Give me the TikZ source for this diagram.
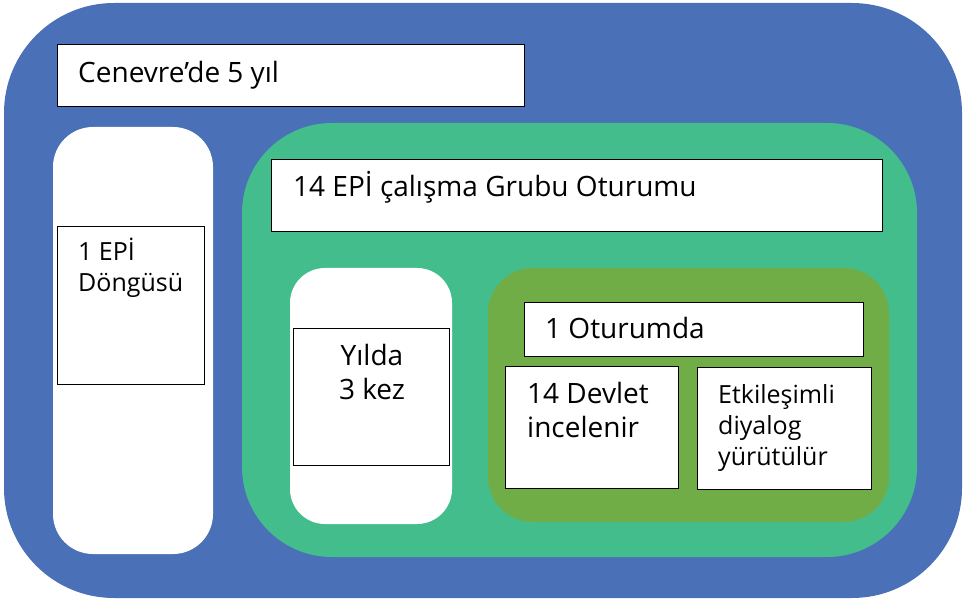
\documentclass[tikz,border=0pt]{standalone}
\usepackage{fontspec}
\setmainfont{Open Sans}
\usetikzlibrary{positioning}
\definecolor{outerblue}{HTML}{4A70B7}
\definecolor{sessgreen}{HTML}{44BD8D}
\definecolor{meetolive}{HTML}{70AD47}
\begin{document}
\begin{tikzpicture}[x=1pt,y=-1pt,
    box/.style={draw=black, fill=white, line width=1.2pt, inner sep=0pt, anchor=north west},
    lbl/.style={inner sep=0pt, anchor=base west, align=left, font=\fontsize{28}{34}\selectfont},
    small/.style={font=\fontsize{25}{31}\selectfont}]
        \useasboundingbox (0,0) rectangle (963,601);

        \fill [outerblue, rounded corners=110pt] (4,3) rectangle (962,598);
        \fill [white, rounded corners=40pt] (53,127) rectangle (213,554);
        \fill [sessgreen, rounded corners=90pt] (242,123) rectangle (917,557);
        \fill [white, rounded corners=35pt] (290,268) rectangle (452,524);
        \fill [meetolive, rounded corners=45pt] (488,268) rectangle (889,522);

        \node [box, minimum width=467pt, minimum height=62pt] (geneva) at (57,44) {};
        \node [box, minimum width=611pt, minimum height=72pt] (session) at (271,159) {};
        \node [box, minimum width=147pt, minimum height=158pt] (cycle) at (57,226) {};
        \node [box, minimum width=156pt, minimum height=137pt] (yearly) at (293,328) {};
        \node [box, minimum width=339pt, minimum height=54pt] (meeting) at (524,302) {};
        \node [box, minimum width=173pt, minimum height=122pt] (states) at (505,366) {};
        \node [box, minimum width=174pt, minimum height=122pt] (dialog) at (697,367) {};

        \node [lbl] (genevatext) at (78,83) {Cenevre’de 5 yıl};
        \node [lbl] (sessiontext) at (293,197) {14 EPİ çalışma Grubu Oturumu};
        \node [lbl, small] (cycletext) at (78,292) {1 EPİ\\Döngüsü};
        \node [lbl, anchor=base, align=center] (yearlytext) at (372,399) {Yılda\\3 kez};
        \node [lbl] (meetingtext) at (545,338) {1 Oturumda};
        \node [lbl] (statestext) at (527,437) {14 Devlet\\incelenir};
        \node [lbl, small] (dialogtext) at (718,465) {Etkileşimli\\diyalog\\yürütülür};

      \end{tikzpicture}
\end{document}
